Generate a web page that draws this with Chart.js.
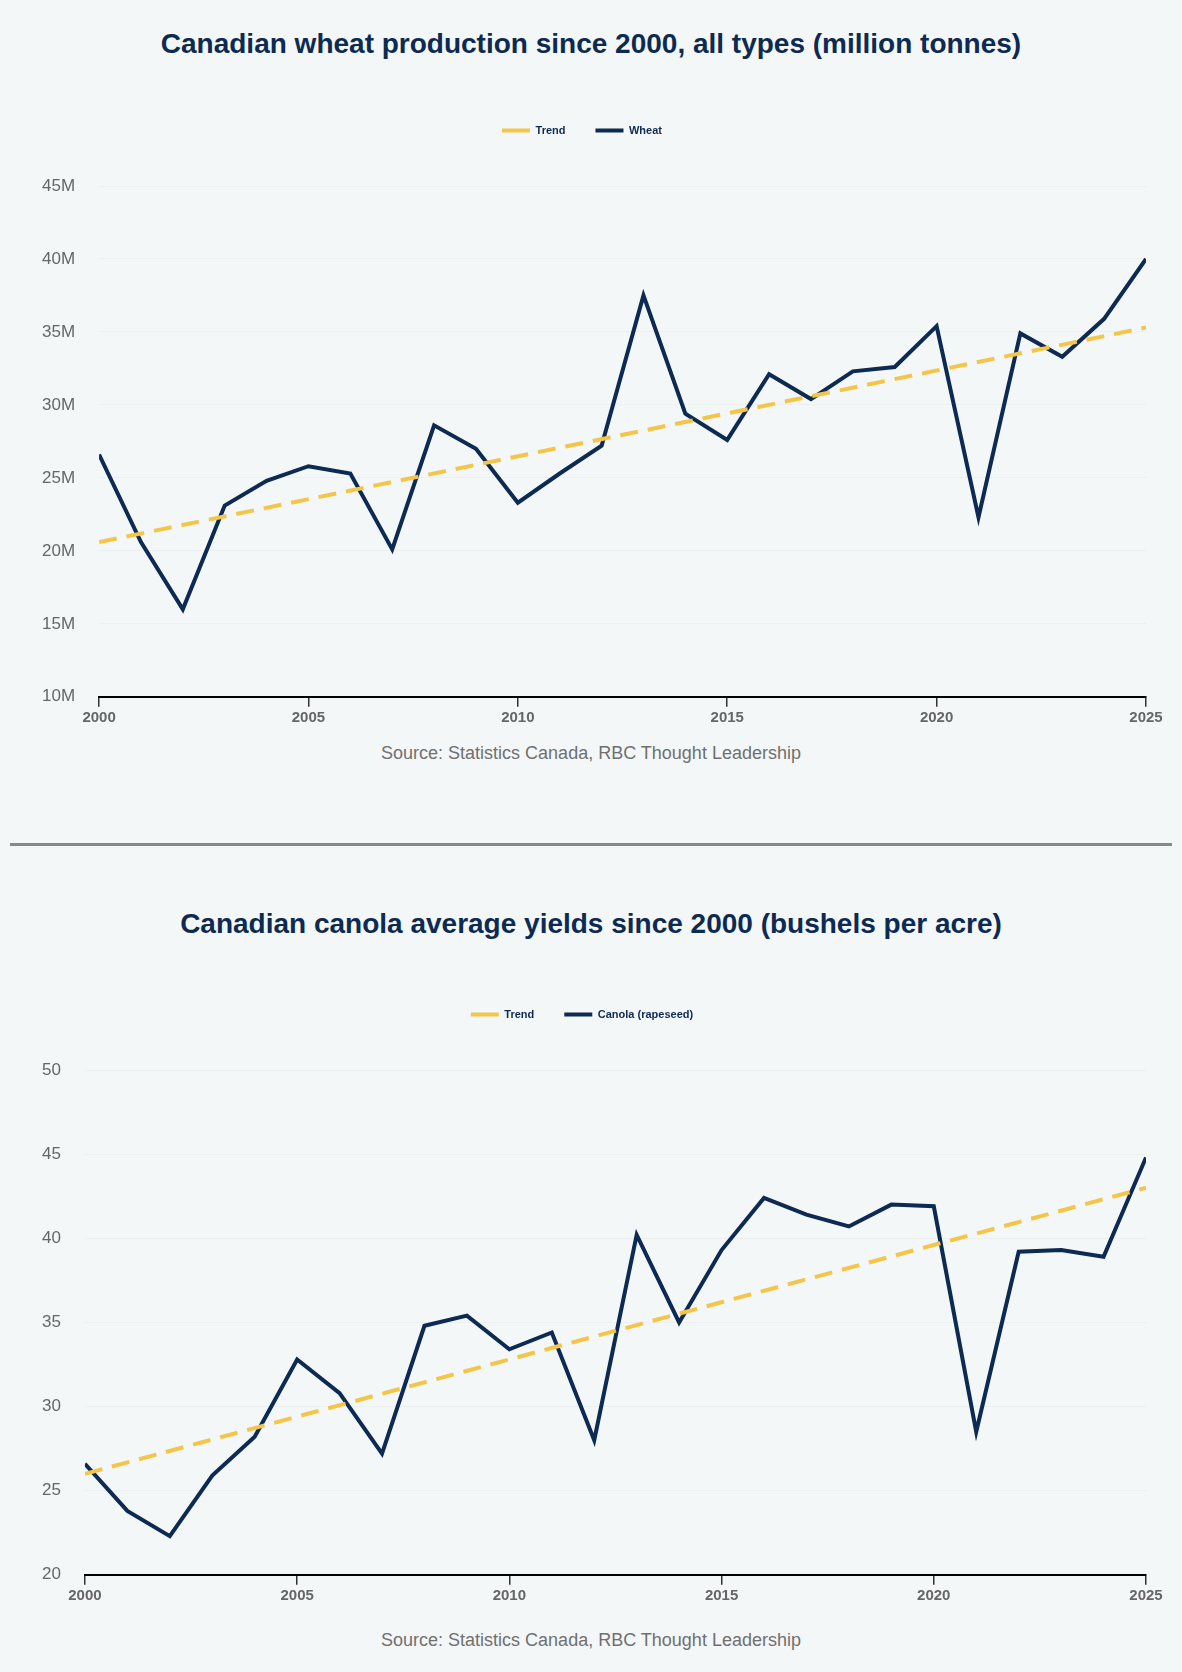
<!DOCTYPE html>
<html><head><meta charset="utf-8">
<script src="https://cdn.jsdelivr.net/npm/chart.js@4"></script>
<style>
body{margin:0;background:#f3f7f8;width:1182px;height:1672px;position:relative;font-family:"Liberation Sans",Arial,sans-serif;overflow:hidden}
.t{position:absolute;left:0;width:1182px;text-align:center;font-weight:bold;color:#0d2a52;font-size:28px}
.s{position:absolute;left:0;width:1182px;text-align:center;color:#707070;font-size:18px}
.c{position:absolute;left:0;width:1182px}
#hr{position:absolute;left:10px;width:1162px;top:843px;height:3px;background:#888}
</style></head><body>
<div class="t" style="top:28px">Canadian wheat production since 2000, all types (million tonnes)</div>
<div class="c" style="top:95px;height:636px"><canvas id="c1"></canvas></div>
<div class="s" style="top:743px">Source: Statistics Canada, RBC Thought Leadership</div>
<div id="hr"></div>
<div class="t" style="top:908px">Canadian canola average yields since 2000 (bushels per acre)</div>
<div class="c" style="top:979px;height:630px"><canvas id="c2"></canvas></div>
<div class="s" style="top:1630px">Source: Statistics Canada, RBC Thought Leadership</div>
<script>
const years=[2000,2001,2002,2003,2004,2005,2006,2007,2008,2009,2010,2011,2012,2013,2014,2015,2016,2017,2018,2019,2020,2021,2022,2023,2024,2025];
const wheat=[26.6,20.6,16.0,23.1,24.8,25.8,25.3,20.1,28.6,27.0,23.3,25.3,27.2,37.5,29.4,27.6,32.1,30.4,32.3,32.6,35.4,22.3,34.9,33.3,35.9,40.0];
const wheatTrend=[20.6,35.3];
const canola=[26.6,23.8,22.3,25.9,28.2,32.8,30.8,27.2,34.8,35.4,33.4,34.4,28.0,40.2,35.0,39.3,42.4,41.4,40.7,42.0,41.9,28.5,39.2,39.3,38.9,44.8];
const canolaTrend=[26.0,43.0];
const navy='#0d2a52',gold='#f5c54a';
const legendGap={id:'legendGap',beforeInit(c){const f=c.legend.fit;c.legend.fit=function(){f.bind(c.legend)();this.height+=40;};}};
function mk(id,name,vals,trend,ymin,ymax,suffix){
 new Chart(document.getElementById(id),{type:'line',plugins:[legendGap],
 data:{datasets:[
  {label:'Trend',data:[{x:2000,y:trend[0]},{x:2025,y:trend[1]}],borderColor:gold,backgroundColor:gold,borderWidth:4,borderDash:[18,10],pointRadius:0},
  {label:name,data:years.map((y,i)=>({x:y,y:vals[i]})),borderColor:navy,backgroundColor:navy,borderWidth:4,pointRadius:0,tension:0}]},
 options:{responsive:true,maintainAspectRatio:false,animation:false,
  layout:{padding:{left:18,right:36,top:0,bottom:0}},
  plugins:{legend:{labels:{usePointStyle:true,pointStyle:'line',pointStyleWidth:28,color:navy,font:{size:11,weight:'bold'},padding:30}},tooltip:{enabled:false}},
  scales:{
   x:{type:'linear',min:2000,max:2025,grid:{display:true,drawOnChartArea:false,drawTicks:true,tickLength:10,tickColor:'#333',lineWidth:1.5},border:{color:'#000',width:2},
      afterBuildTicks:a=>{a.ticks=[2000,2005,2010,2015,2020,2025].map(v=>({value:v}))},
      ticks:{color:'#666',font:{size:15,weight:'bold'},callback:v=>String(v),maxRotation:0,padding:2}},
   y:{min:ymin,max:ymax,ticks:{stepSize:5,color:'#666',font:{size:17},callback:v=>v+suffix,padding:24},grid:{color:'#ecf0f1',drawTicks:false},border:{display:false}}
  }}});
}
mk('c1','Wheat',wheat,wheatTrend,10,45,'M');
mk('c2','Canola (rapeseed)',canola,canolaTrend,20,50,'');
</script></body></html>
